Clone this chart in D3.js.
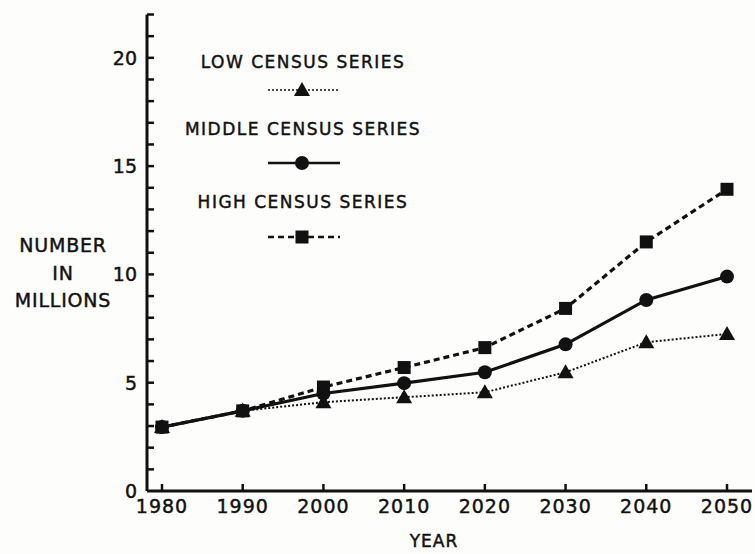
<!DOCTYPE html>
<html>
<head>
<meta charset="utf-8">
<script src="https://cdn.jsdelivr.net/npm/d3@7"></script>
<style>
  body { margin: 0; background: #fdfdfb; }
  text { font-family: "DejaVu Sans", sans-serif; fill: #111; stroke: #111; stroke-width: 0.45px; }
</style>
</head>
<body>
<div id="content"></div>
<script>
// data
var years = [1980, 1990, 2000, 2010, 2020, 2030, 2040, 2050];
var lowSeries = [2.95, 3.7, 4.1, 4.33, 4.56, 5.48, 6.87, 7.25];
var middleSeries = [2.95, 3.7, 4.5, 4.98, 5.48, 6.77, 8.82, 9.9];
var highSeries = [2.95, 3.7, 4.8, 5.7, 6.62, 8.43, 11.5, 13.93];
var yTickLabels = [0, 5, 10, 15, 20];
var seriesNames = ["LOW CENSUS SERIES", "MIDDLE CENSUS SERIES", "HIGH CENSUS SERIES"];

//Append svg
var svg = d3.select("#content").append("svg")
    .attr("width", 755)
    .attr("height", 554);

var x = d3.scaleLinear().domain([1980, 2050]).range([162, 727]);
var y = d3.scaleLinear().domain([0, 22]).range([491, 14.5]);

//Axes
svg.append("line")
    .attr("x1", 147).attr("x2", 147)
    .attr("y1", y(0)).attr("y2", y(22))
    .attr("stroke", "#111").attr("stroke-width", 3);
svg.append("line")
    .attr("x1", 147).attr("x2", 752)
    .attr("y1", y(0)).attr("y2", y(0))
    .attr("stroke", "#111").attr("stroke-width", 3);

// y ticks point inward, one per unit
svg.selectAll(".ytick").data(d3.range(1, 23)).enter().append("line")
    .attr("x1", 147).attr("x2", 154)
    .attr("y1", function(d){ return y(d); })
    .attr("y2", function(d){ return y(d); })
    .attr("stroke", "#111").attr("stroke-width", 2.5);

svg.selectAll(".ylab").data(yTickLabels).enter().append("text")
    .attr("x", 137)
    .attr("y", function(d){ return y(d) + 7; })
    .attr("text-anchor", "end")
    .style("font-size", "19px")
    .text(function(d){ return d; });

// x ticks point up
svg.selectAll(".xtick").data(years).enter().append("line")
    .attr("x1", function(d){ return x(d); })
    .attr("x2", function(d){ return x(d); })
    .attr("y1", y(0)).attr("y2", y(0) - 7)
    .attr("stroke", "#111").attr("stroke-width", 2.5);

svg.selectAll(".xlab").data(years).enter().append("text")
    .attr("x", function(d){ return x(d); })
    .attr("y", 513)
    .attr("text-anchor", "middle")
    .style("font-size", "19px")
    .style("letter-spacing", "1px")
    .text(function(d){ return d; });

svg.append("text")
    .attr("x", 434).attr("y", 547)
    .attr("text-anchor", "middle")
    .style("font-size", "17px")
    .style("letter-spacing", "1px")
    .text("YEAR");

var yTitle = svg.append("text").attr("text-anchor", "middle")
    .style("font-size", "19px").style("letter-spacing", "0.8px");
["NUMBER", "IN", "MILLIONS"].forEach(function(t, i){
  yTitle.append("tspan").attr("x", 63).attr("y", 252 + i * 27.5).text(t);
});

//Series
var styles = [
  {data: lowSeries, width: 2, dash: "2,2", marker: "triangle"},
  {data: middleSeries, width: 3.2, dash: null, marker: "circle"},
  {data: highSeries, width: 3.2, dash: "6,4", marker: "square"}
];

var line = d3.line()
    .x(function(d, i){ return x(years[i]); })
    .y(function(d){ return y(d); });

function marker(g, type, cx, cy) {
  if (type === "triangle") {
    g.append("path")
      .attr("d", "M" + cx + "," + (cy - 8) + "L" + (cx + 8) + "," + (cy + 6) + "L" + (cx - 8) + "," + (cy + 6) + "Z")
      .attr("fill", "#111");
  } else if (type === "circle") {
    g.append("circle").attr("cx", cx).attr("cy", cy).attr("r", 7).attr("fill", "#111");
  } else {
    g.append("rect").attr("x", cx - 6.5).attr("y", cy - 6.5)
      .attr("width", 13).attr("height", 13).attr("fill", "#111");
  }
}

// draw high first so middle/low sit on top like the print
[2, 0, 1].forEach(function(k){
  var s = styles[k];
  svg.append("path")
    .datum(s.data)
    .attr("d", line)
    .attr("fill", "none")
    .attr("stroke", "#111")
    .attr("stroke-width", s.width)
    .attr("stroke-dasharray", s.dash);
  var g = svg.append("g");
  s.data.forEach(function(v, i){ marker(g, s.marker, x(years[i]), y(v)); });
});

//Legend
var legendTextY = [68, 135, 208];
var legendLineY = [90, 163, 237];
seriesNames.forEach(function(name, i){
  svg.append("text")
    .attr("x", 303).attr("y", legendTextY[i])
    .attr("text-anchor", "middle")
    .style("font-size", "17px")
    .style("letter-spacing", "1.5px")
    .text(name);
  var s = styles[i];
  var ly = legendLineY[i];
  svg.append("line")
    .attr("x1", 268).attr("x2", 340)
    .attr("y1", ly).attr("y2", ly)
    .attr("stroke", "#111")
    .attr("stroke-width", s.width - 0.5)
    .attr("stroke-dasharray", s.dash);
  marker(svg, s.marker, 302, ly);
});
</script>
</body>
</html>
